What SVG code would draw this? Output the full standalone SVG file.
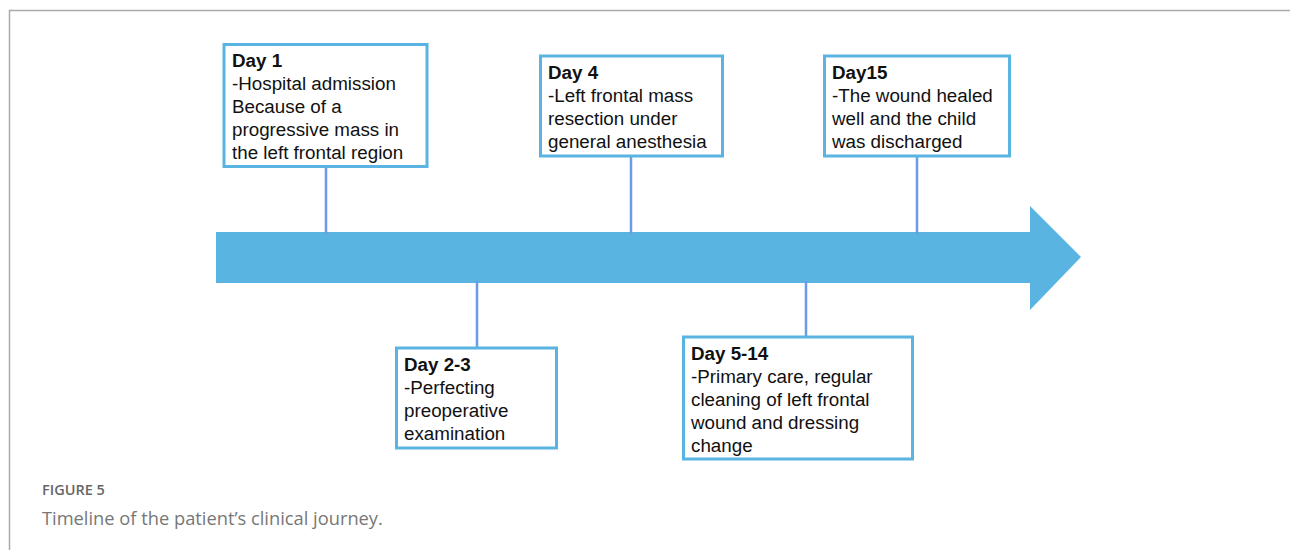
<svg xmlns="http://www.w3.org/2000/svg" width="1290" height="550" viewBox="0 0 1290 550">
<style>
.box{fill:#fff;stroke:#5ab4e2;stroke-width:3}
.t{font-family:"Liberation Sans",Arial,sans-serif;font-size:18.8px;fill:#111}
.b{font-weight:bold}
.conn line{stroke:#6a9be8;stroke-width:2.5}
.frame{stroke:#aaaaaa;stroke-width:1.5;fill:none}
.cap1{font-family:"Open Sans",sans-serif;font-size:14.5px;fill:#666;font-weight:600}
.cap2{font-family:"Open Sans",sans-serif;font-size:18.3px;fill:#777}
</style>
<rect width="1290" height="550" fill="#fff"/>
<path class="frame" d="M1290 10.5 H9.5 V550"/>
<g id="timeline-arrow">
<polygon points="216,232 1030,232 1030,206 1081,257 1030,310 1030,283 216,283" fill="#5ab4e2"/>
</g>
<g id="connectors" class="conn">
<line x1="326" y1="167" x2="326" y2="234"/>
<line x1="631" y1="156" x2="631" y2="234"/>
<line x1="917" y1="156" x2="917" y2="234"/>
<line x1="477" y1="281" x2="477" y2="348"/>
<line x1="806" y1="281" x2="806" y2="337"/>
</g>
<g id="day1">
<rect class="box" x="224" y="44.5" width="203" height="122"/>
<text class="t"><tspan class="b" x="232" y="67">Day 1</tspan><tspan x="232" y="90">-Hospital admission</tspan><tspan x="232" y="113">Because of a</tspan><tspan x="232" y="136">progressive mass in</tspan><tspan x="232" y="159">the left frontal region</tspan></text>
</g>
<g id="day4">
<rect class="box" x="540.5" y="56" width="182" height="100"/>
<text class="t"><tspan class="b" x="548" y="79">Day 4</tspan><tspan x="548" y="102">-Left frontal mass</tspan><tspan x="548" y="125">resection under</tspan><tspan x="548" y="148">general anesthesia</tspan></text>
</g>
<g id="day15">
<rect class="box" x="824.5" y="56" width="185" height="100"/>
<text class="t"><tspan class="b" x="832" y="79">Day15</tspan><tspan x="832" y="102">-The wound healed</tspan><tspan x="832" y="125">well and the child</tspan><tspan x="832" y="148">was discharged</tspan></text>
</g>
<g id="day2-3">
<rect class="box" x="396.5" y="348" width="160" height="100"/>
<text class="t"><tspan class="b" x="404" y="371">Day 2-3</tspan><tspan x="404" y="394">-Perfecting</tspan><tspan x="404" y="417">preoperative</tspan><tspan x="404" y="440">examination</tspan></text>
</g>
<g id="day5-14">
<rect class="box" x="683.5" y="337" width="229" height="122"/>
<text class="t"><tspan class="b" x="691" y="360">Day 5-14</tspan><tspan x="691" y="383">-Primary care, regular</tspan><tspan x="691" y="406">cleaning of left frontal</tspan><tspan x="691" y="429">wound and dressing</tspan><tspan x="691" y="452">change</tspan></text>
</g>
<text class="cap1" x="42" y="495">FIGURE 5</text>
<text class="cap2" x="42" y="525">Timeline of the patient’s clinical journey.</text>
</svg>
